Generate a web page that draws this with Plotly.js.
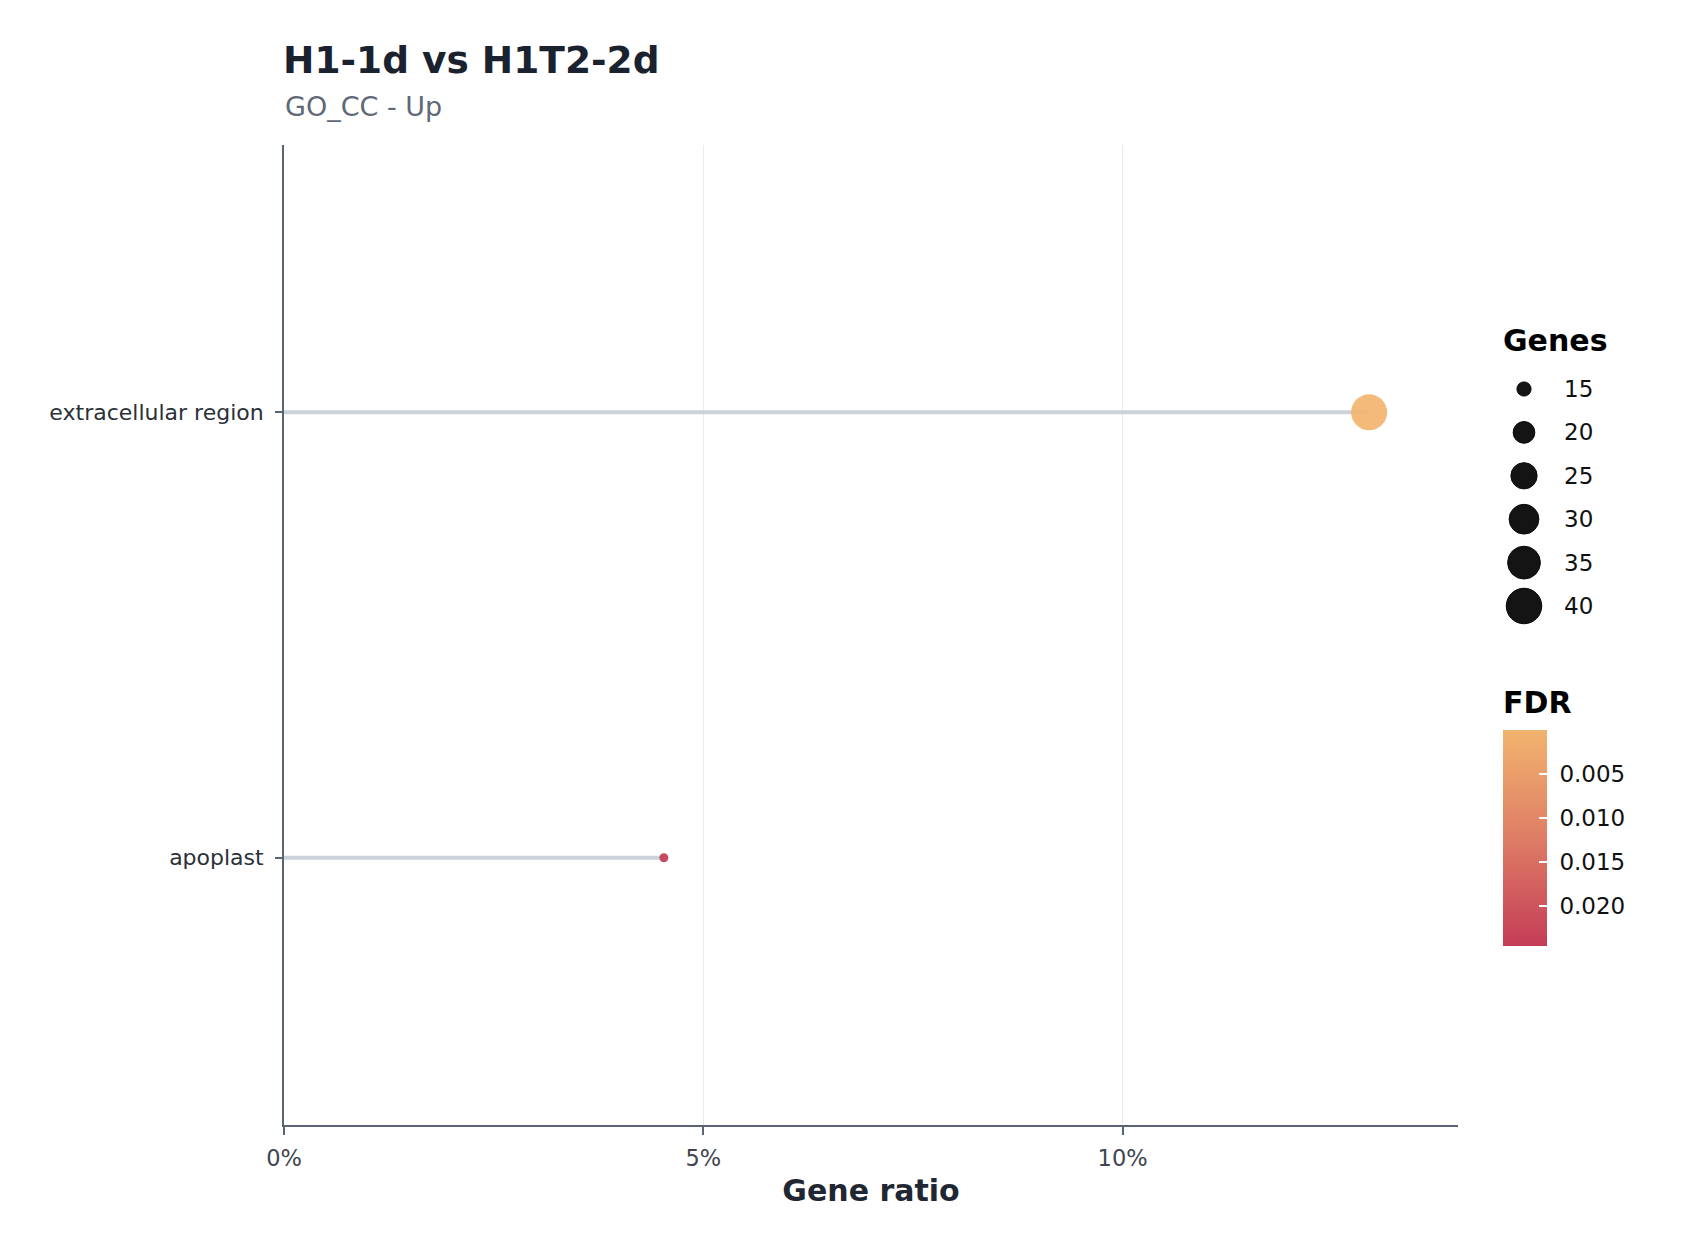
<!DOCTYPE html>
<html>
<head>
<meta charset="utf-8">
<script src="https://cdn.plot.ly/plotly-3.0.1.min.js"></script>
<style>html,body{margin:0;padding:0;background:#fff;}#chart{width:1700px;height:1250px;}</style>
</head>
<body>
<div id="chart"></div>
<script>
// ---- data ----
const categories = ['apoplast', 'extracellular region'];
const geneRatio = [0.0453, 0.1294];
const geneCount = [14, 41];
const fdr = [0.0245, 0.00002];
const sizeBreaks = [15, 20, 25, 30, 35, 40];
const fdrTicks = [0.005, 0.010, 0.015, 0.020];
const fdrTickLabels = ['0.005', '0.010', '0.015', '0.020'];
const xTicks = [0, 0.05, 0.10];
const xTickLabels = ['0%', '5%', '10%'];

// ---- layout geometry (pixels) ----
const W = 1700, H = 1250;
const M = {l: 284, r: 60, t: 145, b: 125};
const PW = W - M.l - M.r, PH = H - M.t - M.b;
const px2x = p => (p - M.l) / PW;
const px2y = p => (H - M.b - p) / PH;

// size scale (area-like, as ggplot scale_size)
const gMin = Math.min(...geneCount), gMax = Math.max(...geneCount);
const sizeScale = n => 9 + 27 * Math.sqrt(Math.max(0, (n - gMin) / (gMax - gMin)));

const FONT = 'DejaVu Sans';
const traces = [];

// lollipop stems
categories.forEach((c, i) => {
  traces.push({
    type: 'scatter', mode: 'lines',
    x: [0, geneRatio[i]], y: [c, c],
    line: {color: '#cbd2da', width: 4},
    hoverinfo: 'skip', showlegend: false
  });
});

// points
traces.push({
  type: 'scatter', mode: 'markers',
  x: geneRatio, y: categories,
  marker: {
    size: geneCount.map(sizeScale),
    color: fdr.map(v => -v),
    colorscale: [[0, '#C43D57'], [0.5, '#DE7D65'], [1, '#F2B46F']],
    opacity: 0.92,
    line: {width: 0},
    showscale: true,
    colorbar: {
      x: px2x(1503), xanchor: 'left', xpad: 0,
      y: px2y(838), yanchor: 'middle', ypad: 0,
      thickness: 44, thicknessmode: 'pixels',
      len: 216, lenmode: 'pixels',
      outlinewidth: 0,
      tickmode: 'array',
      tickvals: fdrTicks.map(v => -v),
      ticktext: fdrTickLabels.map(s => '\u00a0' + s),
      ticks: 'inside', ticklen: 8, tickwidth: 1.5, tickcolor: '#ffffff',
      tickfont: {family: FONT, size: 23, color: '#111111'},
      title: {text: ''}
    }
  },
  hovertemplate: '%{y}<br>Gene ratio %{x:.1%}<extra></extra>',
  showlegend: false
});

// size legend
traces.push({
  type: 'scatter', mode: 'markers',
  xaxis: 'x2', yaxis: 'y2',
  x: sizeBreaks.map(() => 0.5),
  y: sizeBreaks.map((v, i) => i),
  marker: {size: sizeBreaks.map(sizeScale), color: '#141414', opacity: 1,
           line: {color: '#0a0a0a', width: 1}},
  hoverinfo: 'skip', showlegend: false
});

const annotations = [
  {text: 'GO_CC - Up', xref: 'paper', yref: 'paper', x: px2x(283), y: px2y(107),
   xanchor: 'left', yanchor: 'middle', showarrow: false,
   font: {family: FONT, size: 27, color: '#5f6877'}},
  {text: '<b>Genes</b>', xref: 'paper', yref: 'paper', x: px2x(1501), y: px2y(340),
   xanchor: 'left', yanchor: 'middle', showarrow: false,
   font: {family: FONT, size: 30, color: '#000000'}},
  {text: '<b>FDR</b>', xref: 'paper', yref: 'paper', x: px2x(1501), y: px2y(702),
   xanchor: 'left', yanchor: 'middle', showarrow: false,
   font: {family: FONT, size: 30, color: '#000000'}}
];
sizeBreaks.forEach((v, i) => {
  annotations.push({text: String(v), xref: 'x2', yref: 'y2', x: 1.45, y: i,
    xanchor: 'left', yanchor: 'middle', showarrow: false,
    font: {family: FONT, size: 23, color: '#111111'}});
});

const axisLine = '#5b6472';
const layout = {
  width: W, height: H,
  margin: M,
  paper_bgcolor: '#ffffff', plot_bgcolor: '#ffffff',
  font: {family: FONT},
  showlegend: false,
  title: {
    text: '<b>H1-1d vs H1T2-2d</b>',
    xref: 'container', yref: 'container',
    x: 283 / W, xanchor: 'left',
    y: 1 - 60 / H, yanchor: 'middle',
    font: {family: FONT, size: 37.5, color: '#1a2230'}
  },
  xaxis: {
    domain: [0, px2x(1458)],
    range: [0, 0.14],
    tickmode: 'array', tickvals: xTicks, ticktext: xTickLabels,
    showgrid: true, gridcolor: '#ebebeb', gridwidth: 1.3,
    zeroline: false,
    showline: true, linecolor: axisLine, linewidth: 1.8,
    ticks: 'outside', ticklen: 8, tickwidth: 1.5, tickcolor: axisLine,
    ticklabelstandoff: 4,
    tickfont: {family: FONT, size: 22.5, color: '#3f4550'},
    title: {text: '<b>Gene ratio</b>', standoff: 10,
            font: {family: FONT, size: 30, color: '#1f2733'}},
    fixedrange: true
  },
  yaxis: {
    type: 'category',
    categoryorder: 'array', categoryarray: categories,
    range: [-0.6, 1.6],
    showgrid: false, zeroline: false,
    showline: true, linecolor: axisLine, linewidth: 1.8,
    ticks: 'outside', ticklen: 7, tickwidth: 1.5, tickcolor: axisLine,
    ticklabelstandoff: 7,
    tickfont: {family: FONT, size: 22, color: '#2b3039'},
    fixedrange: true
  },
  xaxis2: {domain: [px2x(1504), px2x(1640)], range: [0, 3.4], visible: false, anchor: 'y2', fixedrange: true},
  yaxis2: {domain: [px2y(627.7), px2y(367.3)], range: [5.5, -0.5], visible: false, anchor: 'x2', fixedrange: true},
  annotations: annotations
};

Plotly.newPlot('chart', traces, layout, {displayModeBar: false, responsive: false});
</script>
</body>
</html>
